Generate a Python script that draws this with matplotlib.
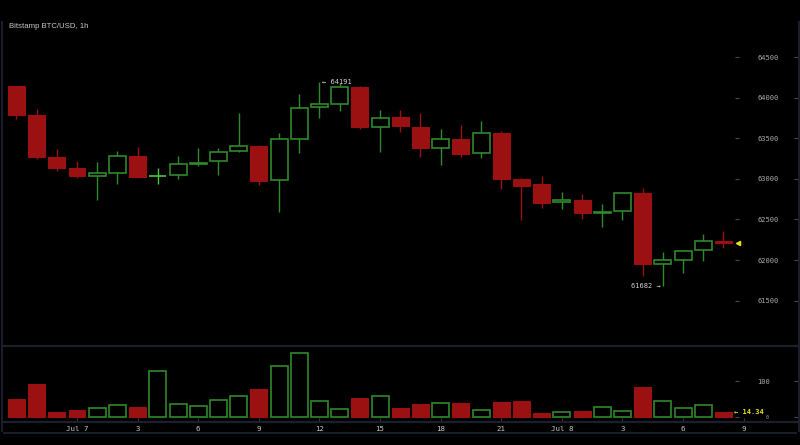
import numpy as np
import matplotlib
matplotlib.use("Agg")
import matplotlib.pyplot as plt
from matplotlib.lines import Line2D

# hourly candles, Jul 6 21:00 -> Jul 8 08:00 (hours relative to Jul 7 00:00)
hours = np.arange(-3, 33)
opens = [64148, 63787, 63270, 63134, 63040, 63076, 63278, 63032, 63044, 63187,
         63220, 63340, 63409, 62990, 63491, 63882, 63926, 64135, 63635, 63766,
         63643, 63377, 63495, 63323, 63562, 62995, 62937, 62716, 62736, 62576,
         62601, 62826, 61952, 61998, 62124, 62235]
highs = [64150, 63857, 63368, 63224, 63204, 63344, 63393, 63131, 63286, 63384,
         63381, 63808, 63412, 63562, 64042, 64191, 64177, 64140, 63849, 63849,
         63815, 63615, 63664, 63709, 63594, 62999, 63036, 62842, 62810, 62687,
         62830, 62884, 62104, 62120, 62325, 62358]
lows = [63734, 63241, 63101, 63015, 62740, 62934, 63020, 62934, 63003, 63163,
        63048, 63328, 62921, 62596, 63315, 63754, 63836, 63615, 63335, 63574,
        63266, 63171, 63273, 63261, 62872, 62490, 62645, 62626, 62502, 62411,
        62490, 61808, 61682, 61837, 61989, 62145]
closes = [63787, 63273, 63134, 63036, 63069, 63278, 63027, 63032, 63180, 63200,
          63331, 63409, 62970, 63488, 63869, 63922, 64132, 63639, 63754, 63651,
          63377, 63495, 63307, 63562, 62995, 62916, 62700, 62744, 62576, 62596,
          62826, 61956, 61998, 62116, 62239, 62211]
volumes = [50, 93, 16, 21, 25, 33, 29, 129, 37, 31, 47, 58, 79, 143, 180, 44,
           23, 53, 58, 25, 37, 40, 41, 19, 43, 46, 12, 15, 17, 29, 17, 83, 46,
           25, 33, 14.34]

price_ticks = [61500, 62000, 62500, 63000, 63500, 64000, 64500]
vol_ticks = [0, 100]
x_ticks = [0, 3, 6, 9, 12, 15, 18, 21, 24, 27, 30, 33]
x_labels = ["Jul 7", "3", "6", "9", "12", "15", "18", "21", "Jul 8", "3", "6", "9"]

RED = "#9b1111"
GREEN = "#2f8a2a"
DOJI = "#4cc63f"
FRAME = "#1b1f2c"
TXT = "#ababab"
MONO = "DejaVu Sans Mono"

W, H = 800, 445


def rect(x0, y0, x1, y1):
    return [x0 / W, 1 - y1 / H, (x1 - x0) / W, (y1 - y0) / H]


def xfrac(px):
    # pixel column -> axes fraction for the 2..798 wide axes
    return (px - 2) / 796


fig = plt.figure(figsize=(8, 4.45), dpi=100, facecolor="black")
ax = fig.add_axes(rect(2, 0, 798, 346), facecolor="black")
axv = fig.add_axes(rect(2, 346, 798, 422), facecolor="black", sharex=ax)

o = np.array(opens); c = np.array(closes)
up = c > o
flat = c == o
cols = np.where(flat, DOJI, np.where(up, GREEN, RED))

# --- price candles ---
ax.vlines(hours, lows, highs, colors=cols, lw=1.0, zorder=1)
body_lo = np.minimum(o, c)
body_h = np.maximum(np.abs(c - o), 4)
for h, lo, bh, u, f, col in zip(hours, body_lo, body_h, up, flat, cols):
    if u or f:
        ax.bar(h, bh, 0.84, bottom=lo, facecolor="black", edgecolor=col,
               lw=1.2, zorder=2)
    else:
        ax.bar(h, bh, 0.84, bottom=lo, facecolor=RED, edgecolor=RED,
               lw=0.8, zorder=2)

ax.set_xlim(-3.713, 35.69)
ax.set_ylim(60942, 65203)

# max / min markers
imax = int(np.argmax(highs)); imin = int(np.argmin(lows))
ax.text(hours[imax] + 0.12, highs[imax], "\u2190 %d" % highs[imax], family=MONO,
        fontsize=5, color="#d0d0d0", ha="left", va="center")
ax.text(hours[imin] - 0.1, lows[imin], "%d \u2192" % lows[imin], family=MONO,
        fontsize=5, color="#d0d0d0", ha="right", va="center")
# last price marker
ax.plot([xfrac(738)], [closes[-1]], marker="<", ms=3, color="#e8e020",
        transform=ax.get_yaxis_transform(), clip_on=False)

ax.set_yticks(price_ticks)
ax.yaxis.tick_right()
ax.tick_params(axis="y", direction="in", length=3, color="#4a4a4a",
               pad=-29.5, labelsize=5, labelcolor=TXT)
for t in ax.get_yticklabels():
    t.set_family(MONO)
ax.hlines(price_ticks, xfrac(735), xfrac(739), colors="#4a4a4a", lw=0.8,
          transform=ax.get_yaxis_transform())
ax.tick_params(axis="x", bottom=False, labelbottom=False)
for s in ax.spines.values():
    s.set_visible(False)

# --- volume ---
for h, v, u, f in zip(hours, volumes, up, flat):
    if u or f:
        axv.bar(h, v, 0.84, facecolor="black", edgecolor=GREEN, lw=1.2)
    else:
        axv.bar(h, v, 0.84, facecolor=RED, edgecolor=RED, lw=0.8)
axv.set_ylim(-13.06, 198.1)
axv.set_yticks(vol_ticks)
axv.set_yticklabels(["", "100"])
axv.yaxis.tick_right()
axv.tick_params(axis="y", direction="in", length=3, color="#4a4a4a",
                pad=-29.5, labelsize=5, labelcolor=TXT)
for t in axv.get_yticklabels():
    t.set_family(MONO)
# the zero label sits small, half hidden under the last-value tag
axv.text(xfrac(767), vol_ticks[0], "0", family=MONO, fontsize=3.5, color=TXT,
         ha="center", va="center", transform=axv.get_yaxis_transform())
axv.hlines(vol_ticks, xfrac(735), xfrac(739), colors="#4a4a4a", lw=0.8,
           transform=axv.get_yaxis_transform())
axv.text(xfrac(734), volumes[-1], "\u2190 %.2f" % volumes[-1], family=MONO,
         fontsize=5, color="#e8e020", ha="left", va="center",
         transform=axv.get_yaxis_transform(), fontweight="bold")

axv.set_xticks(x_ticks)
axv.set_xticklabels(x_labels, family=MONO, fontsize=5.3, color="#c8c8c8")
axv.tick_params(axis="x", direction="in", length=3, color="#3a3a3a", pad=3)
for k, s in axv.spines.items():
    s.set_visible(k in ("top", "bottom"))
    s.set_color(FRAME)
    s.set_linewidth(1.6)

# outer frame
for xs, ys in [((1.5, 1.5), (22, 431)), ((798.5, 798.5), (22, 431)),
               ((4, 796), (433, 433))]:
    fig.add_artist(Line2D([x / W for x in xs], [1 - y / H for y in ys],
                          color=FRAME, lw=1.4))

fig.text(9 / W, 1 - 27 / H, "Bitstamp BTC/USD, 1h", family="Liberation Sans",
         fontsize=5.6, color="#c8c8c8", va="center", ha="left")

fig.savefig("out.png", dpi=100, facecolor="black")
